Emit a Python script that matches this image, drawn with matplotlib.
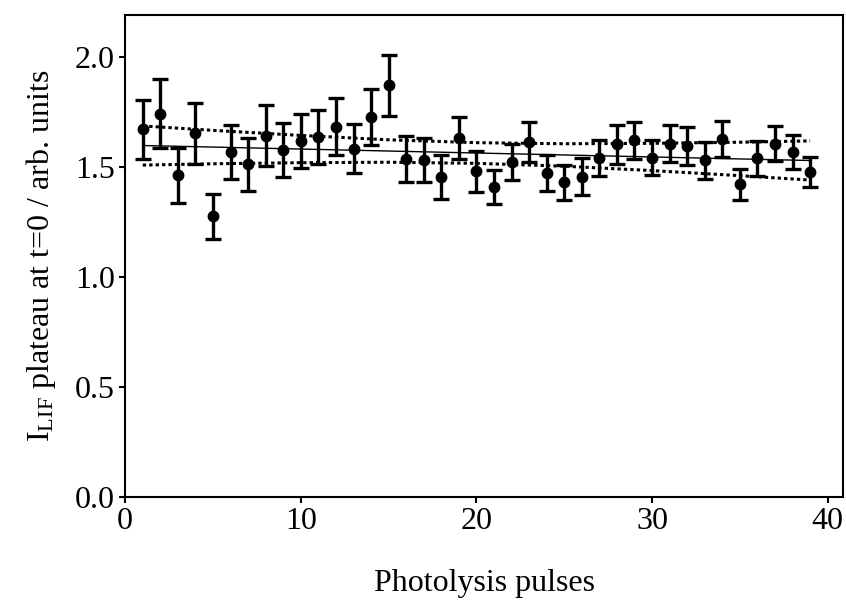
import matplotlib
matplotlib.use("Agg")
import matplotlib.pyplot as plt
import numpy as np

plt.rcParams['font.family'] = ['Liberation Serif', 'DejaVu Serif']
plt.rcParams['mathtext.fontset'] = 'custom'
plt.rcParams['mathtext.rm'] = 'Liberation Serif'
plt.rcParams['mathtext.it'] = 'Liberation Serif:italic'

# Data
pulses = list(range(1, 40))
plateau = [1.670, 1.742, 1.461, 1.652, 1.275, 1.567, 1.511, 1.642, 1.576, 1.617,
           1.636, 1.682, 1.583, 1.727, 1.870, 1.536, 1.529, 1.455, 1.630, 1.480,
           1.409, 1.523, 1.614, 1.470, 1.430, 1.455, 1.541, 1.602, 1.621, 1.541,
           1.605, 1.594, 1.529, 1.627, 1.420, 1.539, 1.606, 1.567, 1.476]
errors = [0.133, 0.157, 0.125, 0.140, 0.103, 0.123, 0.120, 0.138, 0.122, 0.124,
          0.124, 0.130, 0.112, 0.127, 0.140, 0.104, 0.100, 0.100, 0.095, 0.094,
          0.078, 0.083, 0.090, 0.082, 0.080, 0.083, 0.082, 0.089, 0.085, 0.080,
          0.085, 0.085, 0.083, 0.082, 0.072, 0.080, 0.080, 0.077, 0.068]

# Linear fit and confidence band
fit_x = [1, 5, 10, 15, 20, 25, 30, 35, 39]
fit_y = [1.597, 1.590, 1.581, 1.572, 1.563, 1.554, 1.545, 1.536, 1.529]
band_upper = [1.686, 1.666, 1.643, 1.623, 1.610, 1.605, 1.607, 1.612, 1.618]
band_lower = [1.508, 1.514, 1.519, 1.521, 1.516, 1.503, 1.483, 1.460, 1.440]

fig = plt.figure(figsize=(8.46, 6.05), dpi=100)
ax = fig.add_axes([0.148, 0.179, 0.849, 0.796])

ax.plot(fit_x, fit_y, color='black', linewidth=1.0, zorder=2)
ax.plot(fit_x, band_upper, color='black', linewidth=2.2,
        linestyle=(0, (1.1, 1.0)), zorder=2)
ax.plot(fit_x, band_lower, color='black', linewidth=2.2,
        linestyle=(0, (1.1, 1.0)), zorder=2)

ax.errorbar(pulses, plateau, yerr=errors, fmt='o', color='black',
            markersize=7.5, elinewidth=2.4, capsize=5.5, capthick=2.4, zorder=3)

ax.set_xlim(0, 40.9)
ax.set_ylim(0, 2.19)
ax.set_xticks([0, 10, 20, 30, 40])
ax.set_yticks([0.0, 0.5, 1.0, 1.5, 2.0])
ax.set_yticklabels(['0.0', '0.5', '1.0', '1.5', '2.0'])

for s in ax.spines.values():
    s.set_linewidth(1.5)
ax.tick_params(axis='both', direction='out', length=4.5, width=1.5,
               labelsize=23, pad=3)

ax.set_xlabel('Photolysis pulses', fontsize=23, labelpad=24)
ax.set_ylabel(r'I$_{\mathrm{LIF}}$ plateau at t=0 / arb. units', fontsize=23,
              labelpad=12)

fig.savefig('out.png', dpi=100)
